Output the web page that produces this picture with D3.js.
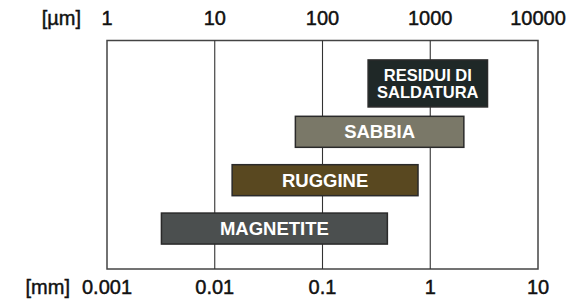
<!DOCTYPE html>
<html>
<head>
<meta charset="utf-8">
<script src="https://cdn.jsdelivr.net/npm/d3@7"></script>
<style>
  body { margin: 0; background: #fff; }
  svg { display: block; font-family: "Liberation Sans", Arial, Helvetica, sans-serif; }
</style>
</head>
<body>
<div id="chart"></div>
<script>
// particle size ranges, in µm
var names = ["RESIDUI DI\nSALDATURA", "SABBIA", "RUGGINE", "MAGNETITE"];
var minSize = [265, 56, 14.5, 3.2];
var maxSize = [3400, 2050, 770, 400];
var colors = ["#1f2827", "#7a7868", "#594820", "#4b4f4f"];

var umTicks = [1, 10, 100, 1000, 10000];
var mmTicks = ["0.001", "0.01", "0.1", "1", "10"];

var width = 575, height = 300;
var plotTop = 40.5, plotBottom = 269;

var svg = d3.select("#chart").append("svg")
  .attr("width", width)
  .attr("height", height);

var x = d3.scaleLog()
  .domain([1, 10000])
  .range([107, 538]);

var y = d3.scaleBand()
  .domain(names)
  .range([59.25, 252.75]);

// frame + grid
svg.append("rect")
  .attr("x", x(1))
  .attr("y", plotTop)
  .attr("width", x(10000) - x(1))
  .attr("height", plotBottom - plotTop)
  .style("fill", "none")
  .style("stroke", "#444")
  .style("stroke-width", 1.5);

svg.selectAll("line.grid")
  .data(umTicks.slice(1, -1))
  .enter().append("line")
  .attr("class", "grid")
  .attr("x1", function(d) { return x(d); })
  .attr("x2", function(d) { return x(d); })
  .attr("y1", plotTop)
  .attr("y2", plotBottom)
  .style("stroke", "#333")
  .style("stroke-width", 1.1);

// labels a bit heavier than regular weight
function tickStyle(sel) {
  sel.style("font-size", "20px")
    .style("fill", "#111")
    .style("stroke", "#111")
    .style("stroke-width", 0.45);
}

// top axis (µm)
var topAxis = svg.append("g").attr("transform", "translate(0,25)");
topAxis.selectAll("text")
  .data(umTicks)
  .enter().append("text")
  .attr("x", function(d) { return x(d); })
  .attr("text-anchor", "middle")
  .call(tickStyle)
  .text(function(d) { return d; });
topAxis.append("text")
  .attr("x", 81)
  .attr("text-anchor", "end")
  .call(tickStyle)
  .text("[µm]");

// bottom axis (mm)
var bottomAxis = svg.append("g").attr("transform", "translate(0,294)");
bottomAxis.selectAll("text")
  .data(mmTicks)
  .enter().append("text")
  .attr("x", function(d, i) { return x(umTicks[i]); })
  .attr("text-anchor", "middle")
  .call(tickStyle)
  .text(function(d) { return d; });
bottomAxis.append("text")
  .attr("x", 70)
  .attr("text-anchor", "end")
  .call(tickStyle)
  .text("[mm]");

// bars
var bars = svg.selectAll("g.bar")
  .data(names)
  .enter().append("g")
  .attr("class", "bar");

function nLines(d) { return d.split("\n").length; }
function barH(d) { return 31 + (nLines(d) - 1) * 16; }
function cy(d) { return y(d) + y.bandwidth() / 2; }

bars.append("rect")
  .attr("x", function(d, i) { return x(minSize[i]); })
  .attr("width", function(d, i) { return x(maxSize[i]) - x(minSize[i]); })
  .attr("y", function(d) { return cy(d) - barH(d) / 2; })
  .attr("height", barH)
  .style("fill", function(d, i) { return colors[i]; })
  .style("stroke", "#2a2a2a")
  .style("stroke-width", 1.5);

bars.each(function(d, i) {
  var lines = d.split("\n");
  var cx = (x(minSize[i]) + x(maxSize[i])) / 2;
  var fs = lines.length > 1 ? 16.5 : 18.5;
  var t = d3.select(this).append("text")
    .attr("text-anchor", "middle")
    .style("font-size", fs + "px")
    .style("font-weight", "bold")
    .style("fill", "#fff");
  lines.forEach(function(l, k) {
    t.append("tspan")
      .attr("x", cx)
      .attr("y", cy(d) + fs * 0.36 + (k - (lines.length - 1) / 2) * 17.6)
      .text(l);
  });
});
</script>
</body>
</html>
